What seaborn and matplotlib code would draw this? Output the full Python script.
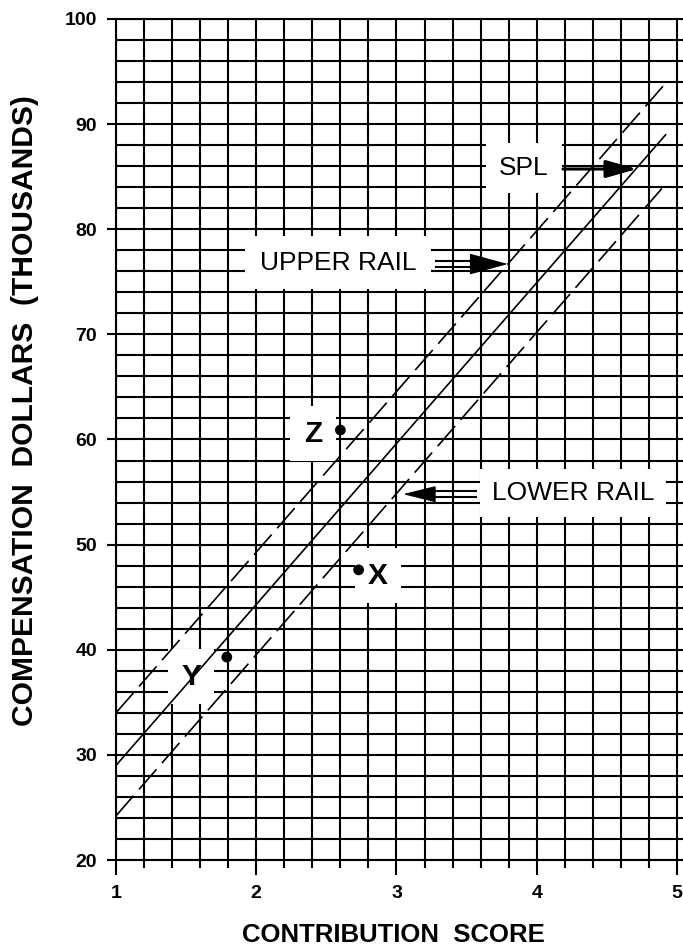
import matplotlib
matplotlib.use("Agg")
import matplotlib.pyplot as plt
import numpy as np
import pandas as pd
import seaborn as sns

# ---------------- data ----------------
spl_x = [1.0, 4.92]
spl_y = [29.0, 89.0]
upper_x = [1.0, 4.90]
upper_y = [34.0, 93.6]
lower_x = [1.0, 4.92]
lower_y = [24.2, 84.3]

point_names = ["Z", "X", "Y"]
point_x = [2.60, 2.73, 1.79]
point_y = [60.9, 47.6, 39.3]

x_major = [1, 2, 3, 4, 5]
y_major = [20, 30, 40, 50, 60, 70, 80, 90, 100]

xlabel = "CONTRIBUTION  SCORE"
ylabel = "COMPENSATION  DOLLARS  (THOUSANDS)"

# annotation layout (text centres)
label_pos = {"Z": (2.405, 60.55), "X": (2.868, 47.05), "Y": (1.535, 37.45)}
spl_text = (3.909, 85.85)
upper_text = (2.583, 76.8)
lower_text = (4.258, 54.9)

# ---------------- style ----------------
sns.set_theme(style="white")
plt.rcParams["font.family"] = ["Liberation Sans", "DejaVu Sans"]

fig = plt.figure(figsize=(6.83, 9.47), dpi=100)
ax = fig.add_axes([116 / 683, 1 - 860 / 947, 567 / 683, 841 / 947])
ax.set_xlim(1, 5.043)
ax.set_ylim(20, 100)

ax.set_xticks(x_major)
ax.set_xticks(np.round(np.arange(1, 5.001, 0.2), 2), minor=True)
ax.set_yticks(y_major)
ax.set_yticks(np.arange(20, 100.1, 2), minor=True)
ax.set_xticklabels([str(v) for v in x_major])
ax.set_yticklabels([str(v) for v in y_major])

ax.set_axisbelow(True)
ax.grid(True, which="both", color="black", lw=1.5)
for s in ["left", "bottom", "top"]:
    ax.spines[s].set_color("black")
    ax.spines[s].set_linewidth(1.5)
ax.spines["right"].set_visible(False)

ax.tick_params(axis="x", which="major", direction="out", length=11, width=1.5,
               color="black", pad=7, labelsize=14)
ax.tick_params(axis="x", which="minor", direction="out", length=6, width=1.5,
               color="black")
ax.tick_params(axis="y", which="major", direction="out", length=6.5, width=1.5,
               color="black", pad=7, labelsize=14)
ax.tick_params(axis="y", which="minor", length=0)
ax.tick_params(axis="both", which="both", bottom=True, left=True, top=False, right=False)
for lab in ax.get_xticklabels() + ax.get_yticklabels():
    lab.set_fontweight("bold")
    lab.set_color("black")

# ---------------- lines ----------------
df_spl = pd.DataFrame({"x": spl_x, "y": spl_y})
df_up = pd.DataFrame({"x": upper_x, "y": upper_y})
df_lo = pd.DataFrame({"x": lower_x, "y": lower_y})
sns.lineplot(data=df_spl, x="x", y="y", ax=ax, color="black", lw=1.2, zorder=4)
sns.lineplot(data=df_up, x="x", y="y", ax=ax, color="black", lw=1.2, zorder=4,
             linestyle=(0, (16, 5)))
sns.lineplot(data=df_lo, x="x", y="y", ax=ax, color="black", lw=1.2, zorder=4,
             linestyle=(0, (16, 5)))

df_pts = pd.DataFrame({"name": point_names, "x": point_x, "y": point_y})
sns.scatterplot(data=df_pts, x="x", y="y", ax=ax, color="black", s=60,
                edgecolor="none", zorder=6)

ax.set_xlabel(xlabel, fontsize=18.5, fontweight="bold", color="black", va="baseline")
ax.set_ylabel(ylabel, fontsize=21.6, fontweight="bold", color="black", va="center")
ax.xaxis.set_label_coords(0.49, -0.0975)
ax.yaxis.set_label_coords(-0.1605, 0.534)

# ---------------- point labels ----------------
for name in point_names:
    tx, ty = label_pos[name]
    ax.text(tx, ty, name, fontsize=21.5, fontweight="bold", ha="center", va="center",
            color="black", zorder=3,
            bbox=dict(facecolor="white", edgecolor="none", boxstyle="square,pad=0.45"))

# ---------------- annotations ----------------
ax.text(*spl_text, "SPL", fontsize=19, ha="center", va="center", color="black", zorder=3,
        bbox=dict(facecolor="white", edgecolor="none", boxstyle="square,pad=0.5"))
ax.text(*upper_text, "UPPER RAIL", fontsize=19, ha="center", va="center", color="black",
        zorder=3, bbox=dict(facecolor="white", edgecolor="none", boxstyle="square,pad=0.55"))
ax.text(*lower_text, "LOWER RAIL", fontsize=19, ha="center", va="center", color="black",
        zorder=3, bbox=dict(facecolor="white", edgecolor="none", boxstyle="square,pad=0.45"))

# SPL arrow (single shaft)
ax.annotate("", xy=(4.715, 85.73), xytext=(4.187, 85.73),
            arrowprops=dict(arrowstyle="-|>,head_length=0.95,head_width=0.27",
                            mutation_scale=20, lw=2.2, color="black",
                            shrinkA=0, shrinkB=0), zorder=5)

# UPPER RAIL arrow (double shaft)
uy = 76.69
for dy in (-0.3, 0.3):
    ax.plot([3.275, 3.56], [uy + dy, uy + dy], color="black", lw=1.5, zorder=5,
            solid_capstyle="butt")
ax.annotate("", xy=(3.795, uy), xytext=(3.532, uy),
            arrowprops=dict(arrowstyle="-|>,head_length=2.5,head_width=0.68",
                            mutation_scale=10, lw=1.0, color="black",
                            shrinkA=0, shrinkB=0), zorder=5)

# LOWER RAIL arrow (double shaft)
ly = 54.8
for dy in (-0.3, 0.3):
    ax.plot([3.235, 3.574], [ly + dy, ly + dy], color="black", lw=1.5, zorder=5,
            solid_capstyle="butt")
ax.annotate("", xy=(3.046, ly), xytext=(3.26, ly),
            arrowprops=dict(arrowstyle="-|>,head_length=2.1,head_width=0.52",
                            mutation_scale=10, lw=1.0, color="black",
                            shrinkA=0, shrinkB=0), zorder=5)

fig.savefig("out.png", dpi=100, facecolor="white")
